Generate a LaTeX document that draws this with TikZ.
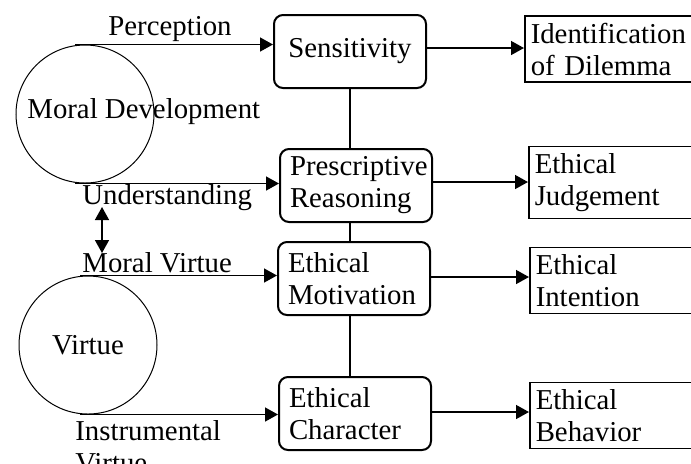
\documentclass[tikz,border=0pt]{standalone}
\usepackage{fontspec}
\setmainfont{Liberation Serif}
\usepackage{tikz}
\usetikzlibrary{shapes,arrows.meta}

\begin{document}
\begin{tikzpicture}[x=0.5pt,y=-0.5pt,
    font=\fontsize{14.4}{16}\selectfont,
    stage/.style={draw,line width=1pt,rounded corners=4.5pt,anchor=west,
        minimum height=36.5pt,text width=66pt,inner xsep=5pt,align=left},
    outcome/.style={draw,line width=0.75pt,anchor=west,minimum height=32pt,
        text width=90pt,inner xsep=3pt,align=left},
    circ/.style={draw,circle,line width=0.5pt,minimum size=69pt,inner sep=0pt},
    lbl/.style={anchor=base west,inner sep=0pt},
    flow/.style={line width=0.75pt,-{Triangle[length=6.5pt,width=7pt]}},
    link/.style={line width=1.2pt}]
    \useasboundingbox (0,0) rectangle (691,463);

    % Draw the two sources
    \node[circ] (md) at (85,114) {};
    \node[lbl] (mdtext) at (27,118) {Moral Development};
    \node[circ] (vir) at (88,345) {Virtue};

    % Draw the stages
    \node[stage,align=center] (sens) at (273,51.5) {Sensitivity};
    \node[stage] (pres) at (279,185.5) {Prescriptive\\Reasoning};
    \node[stage] (mot) at (277,278.5) {Ethical\\Motivation};
    \node[stage] (char) at (278,413.5) {Ethical\\Character};

    % Draw the outcomes
    \node[outcome] (dil) at (524,49) {Identification\\of Dilemma};
    \node[outcome] (judg) at (528,182.5) {Ethical\\Judgement};
    \node[outcome] (intn) at (529,280.5) {Ethical\\Intention};
    \node[outcome] (beh) at (529,415.5) {Ethical\\Behavior};

    % Arrow labels
    \node[lbl] (perc) at (108,35) {Perception};
    \node[lbl] (und) at (82,204) {Understanding};
    \node[lbl] (mv) at (82,272) {Moral Virtue};
    \node[lbl,align=left] (inst) at (75,472) {Instrumental\\Virtue};

    % Inputs to the stages
    \draw[flow] ([xshift=-5pt]md.north) -- (md.north -| sens.west);
    \draw[flow] ([xshift=-5pt]md.south) -- (md.south -| pres.west);
    \draw[flow] ([xshift=-4pt]vir.north) -- (vir.north -| mot.west);
    \draw[flow] ([xshift=-4pt]vir.south) -- (vir.south -| char.west);

    % Understanding <-> moral virtue
    \coordinate (dtop) at (102,207);
    \coordinate (dbot) at (102,253);
    \draw[line width=0.75pt,{Triangle[length=6.5pt,width=7pt]}-{Triangle[length=6.5pt,width=7pt]}] (dtop) -- (dbot);

    % Chain of stages
    \draw[link] (sens.south) -- (sens.south |- pres.north);
    \draw[link] (sens.south |- pres.south) -- (sens.south |- mot.north);
    \draw[link] (sens.south |- mot.south) -- (sens.south |- char.north);

    % Stages to outcomes
    \draw[flow] ([yshift=1.75pt]sens.east) -- ([yshift=1.75pt]sens.east -| dil.west);
    \draw[flow] ([yshift=1.75pt]pres.east) -- ([yshift=1.75pt]pres.east -| judg.west);
    \draw[flow] ([yshift=0.75pt]mot.east) -- ([yshift=0.75pt]mot.east -| intn.west);
    \draw[flow] ([yshift=0.75pt]char.east) -- ([yshift=0.75pt]char.east -| beh.west);
\end{tikzpicture}
\end{document}
